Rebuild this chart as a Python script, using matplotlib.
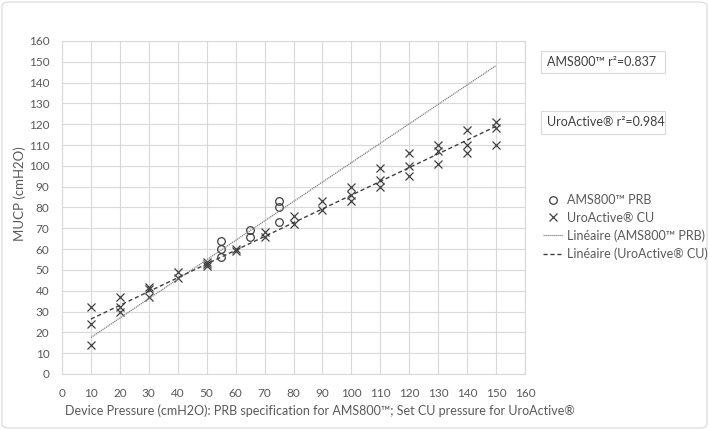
import numpy as np
import matplotlib
matplotlib.use("Agg")
import matplotlib.pyplot as plt
from matplotlib.lines import Line2D
from matplotlib.patches import FancyBboxPatch

plt.rcParams['font.family'] = ['Lato', 'DejaVu Sans']

# ---- data ----
ams_x = [55, 55, 55, 65, 65, 75, 75, 75]
ams_y = [64, 60, 56, 69, 66, 83, 80, 73]

uro_x = [10, 10, 10, 20, 20, 20, 30, 30, 30, 40, 40, 50, 50, 50, 60, 60,
         70, 70, 80, 80, 90, 90, 100, 100, 100, 110, 110, 110,
         120, 120, 120, 130, 130, 130, 140, 140, 140, 150, 150, 150]
uro_y = [32, 24, 14, 37, 32, 30, 42, 41, 37, 49, 46, 54, 53, 52, 60, 59,
         68, 66, 76, 72, 83, 79, 90, 86, 83, 99, 93, 90,
         106, 100, 95, 110, 107, 101, 117, 110, 106, 121, 118, 110]

ams_label = "AMS800™ PRB"
uro_label = "UroActive® CU"
ams_fit_label = "Linéaire (AMS800™ PRB)"
uro_fit_label = "Linéaire (UroActive® CU)"
ams_r2_text = "AMS800™ r²=0.837"
uro_r2_text = "UroActive® r²=0.984"

x_ticks = list(range(0, 161, 10))
y_ticks = list(range(0, 161, 10))

# ---- figure ----
W, H = 709, 430
fig = plt.figure(figsize=(W / 100, H / 100), dpi=100)
ax = fig.add_axes([62 / W, 1 - 374 / H, (525 - 62) / W, (374 - 41) / H])

grid_c = '#d9d9d9'
text_c = '#595959'
mark_c = '#404040'

ax.set_xlim(0, 160)
ax.set_ylim(0, 160)
ax.set_xticks(x_ticks)
ax.set_yticks(y_ticks)
ax.grid(True, color=grid_c, linewidth=0.8)
ax.set_axisbelow(True)
for s in ax.spines.values():
    s.set_color(grid_c)
    s.set_linewidth(0.8)
ax.tick_params(length=0, labelsize=8.5, labelcolor=text_c)
ax.tick_params(axis='y', pad=9)
ax.tick_params(axis='x', pad=10)

# scatter
ax.plot(ams_x, ams_y, linestyle='none', marker='o', markersize=5.5,
        markerfacecolor='none', markeredgecolor=mark_c, markeredgewidth=0.9)
ax.plot(uro_x, uro_y, linestyle='none', marker='x', markersize=6,
        color=mark_c, markeredgewidth=0.9)

# linear trend lines over the full device-pressure range
all_x = np.array(ams_x + uro_x)
xr = np.array([all_x.min(), all_x.max()], dtype=float)
a1, b1 = np.polyfit(ams_x, ams_y, 1)
a2, b2 = np.polyfit(uro_x, uro_y, 1)
ax.plot(xr, a1 * xr + b1, color='#808080', linewidth=0.9, linestyle=(0, (1, 0.6)))
ax.plot(xr, a2 * xr + b2, color=mark_c, linewidth=1.0, linestyle=(0, (3, 2)))

# axis labels
fig.text(20 / W, 1 - 194 / H, "MUCP (cmH2O)", rotation=90, ha='center', va='center',
         fontsize=9.5, color=text_c)
fig.text(65 / W, 1 - 411 / H,
         "Device Pressure (cmH2O): PRB specification for AMS800™; Set CU pressure for UroActive®",
         ha='left', va='center', fontsize=9, color=text_c)

# legend
handles = [
    Line2D([], [], linestyle='none', marker='o', markersize=5.5, markerfacecolor='none',
           markeredgecolor=mark_c, markeredgewidth=0.9),
    Line2D([], [], linestyle='none', marker='x', markersize=6, color=mark_c, markeredgewidth=0.9),
    Line2D([], [], color='#808080', linewidth=0.9, linestyle=(0, (1, 0.6))),
    Line2D([], [], color=mark_c, linewidth=1.0, linestyle=(0, (3, 2))),
]
leg = fig.legend(handles, [ams_label, uro_label, ams_fit_label, uro_fit_label],
                 loc='upper left', bbox_to_anchor=(543 / W, 1 - 194 / H),
                 frameon=False, fontsize=9, handlelength=1.6, handletextpad=0.3,
                 labelspacing=0.45, borderaxespad=0, borderpad=0)
for t in leg.get_texts():
    t.set_color(text_c)

# r² boxes
for txt, y0, y1 in [(ams_r2_text, 51, 73), (uro_r2_text, 111, 134)]:
    box = FancyBboxPatch((541 / W, 1 - y1 / H), (665 - 541) / W, (y1 - y0) / H,
                         boxstyle='square,pad=0', transform=fig.transFigure,
                         facecolor='white', edgecolor=grid_c, linewidth=0.8)
    fig.add_artist(box)
    fig.text(547 / W, 1 - ((y0 + y1) / 2) / H, txt, ha='left', va='center',
             fontsize=9, color='#404040')

# outer border
border = FancyBboxPatch((2 / W, 2 / H), (W - 4) / W, (H - 4) / H,
                        boxstyle='round,pad=0,rounding_size=0.01', transform=fig.transFigure,
                        facecolor='none', edgecolor=grid_c, linewidth=0.8)
fig.add_artist(border)

fig.savefig("out.png", dpi=100)
